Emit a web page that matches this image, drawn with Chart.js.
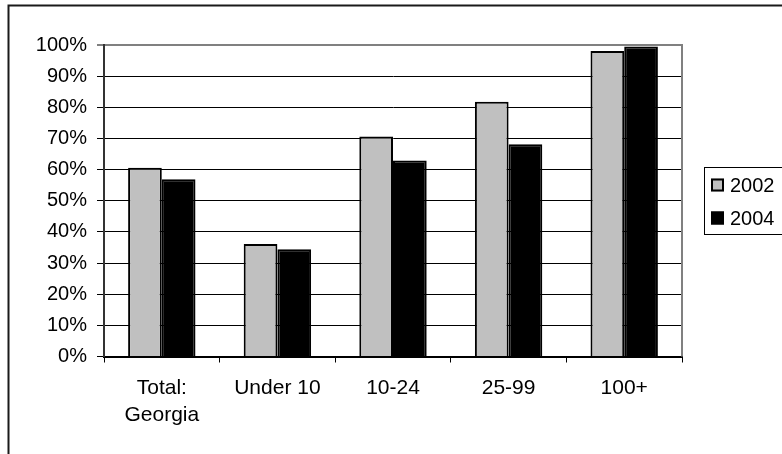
<!DOCTYPE html>
<html>
<head>
<meta charset="utf-8">
<script src="https://cdn.jsdelivr.net/npm/chart.js@4.4.1/dist/chart.umd.min.js"></script>
<style>
  html, body { margin: 0; padding: 0; background: #fff; }
  #wrap { width: 782px; height: 454px; }
</style>
</head>
<body>
<div id="wrap"><canvas id="c" width="782" height="454"></canvas></div>
<script>
// Share of employers, by firm size
const categories = [["Total:", "Georgia"], "Under 10", "10-24", "25-99", "100+"];
const seriesNames = ["2002", "2004"];
const values2002 = [60.6, 36.1, 70.6, 81.8, 98.1];
const values2004 = [56.9, 34.4, 62.9, 68.1, 99.5];
const yTicks = [0, 10, 20, 30, 40, 50, 60, 70, 80, 90, 100];

const FONT = "'Liberation Sans', Arial, sans-serif";
const FILLS = ["#c0c0c0", "#000000"];

// Outer frame, plot-area right edge and the boxed legend
const framePlugin = {
  id: 'frame',
  afterDraw(chart) {
    const ctx = chart.ctx;
    const a = chart.chartArea;
    ctx.save();
    // outer chart frame (runs off the right and bottom edges)
    ctx.strokeStyle = '#1a1a1a';
    ctx.lineWidth = 2;
    ctx.strokeRect(8.5, 5.5, 800, 480);
    // grey plot-area border on the right
    ctx.strokeStyle = '#808080';
    ctx.lineWidth = 2;
    ctx.beginPath();
    ctx.moveTo(a.right, a.top - 1);
    ctx.lineTo(a.right, a.bottom);
    ctx.stroke();
    // legend box
    ctx.strokeStyle = '#000';
    ctx.lineWidth = 1;
    ctx.strokeRect(704.5, 167.5, 100, 67);
    ctx.font = '20px ' + FONT;
    ctx.textBaseline = 'middle';
    ctx.textAlign = 'left';
    chart.data.datasets.forEach((ds, i) => {
      const cy = 185 + i * 33;
      ctx.fillStyle = ds.backgroundColor;
      ctx.fillRect(711, cy - 6.5, 13, 13);
      ctx.strokeStyle = '#000';
      ctx.lineWidth = 2;
      ctx.strokeRect(712, cy - 5.5, 11, 11);
      ctx.fillStyle = '#000';
      ctx.fillText(ds.label, 730, cy + 1);
    });
    ctx.restore();
  }
};

new Chart(document.getElementById('c'), {
  type: 'bar',
  data: {
    labels: categories,
    datasets: [
      { label: seriesNames[0], data: values2002, backgroundColor: FILLS[0], borderColor: '#000', borderWidth: 2 },
      { label: seriesNames[1], data: values2004, backgroundColor: FILLS[1], borderColor: '#000', borderWidth: 2 }
    ]
  },
  options: {
    responsive: false,
    animation: false,
    devicePixelRatio: 1,
    layout: { padding: { left: 0, top: 45, right: 100, bottom: 0 } },
    datasets: { bar: { categoryPercentage: 0.583, barPercentage: 1.0 } },
    plugins: { legend: { display: false }, tooltip: { enabled: false } },
    scales: {
      x: {
        grid: { display: true, drawOnChartArea: false, offset: true, tickLength: 6, color: '#000', lineWidth: 1 },
        border: { display: true, color: '#000', width: 2 },
        ticks: { color: '#000', font: { family: FONT, size: 21, lineHeight: 1.25 }, padding: 13, maxRotation: 0, autoSkip: false },
        afterFit(s) { s.height = 97.5; }
      },
      y: {
        min: 0,
        max: 100,
        afterBuildTicks(s) { s.ticks = yTicks.map(v => ({ value: v })); },
        grid: {
          drawTicks: true,
          tickLength: 7,
          color: (c) => (c.tick && c.tick.value === 100 ? '#808080' : '#000'),
          lineWidth: (c) => (c.tick && c.tick.value === 100 ? 2 : 1),
        },
        border: { display: true, color: '#333', width: 2 },
        ticks: {
          color: '#000',
          font: { family: FONT, size: 20 },
          padding: 10,
          callback: (v) => v + '%'
        },
        afterFit(s) { s.width = 104; }
      }
    }
  },
  plugins: [framePlugin]
});
</script>
</body>
</html>
